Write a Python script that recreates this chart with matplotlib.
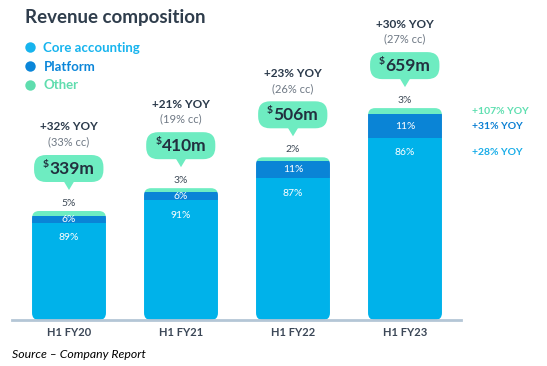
import matplotlib
matplotlib.use("Agg")
import matplotlib.pyplot as plt
from matplotlib.patches import FancyBboxPatch, Polygon
from matplotlib.lines import Line2D
from matplotlib.transforms import IdentityTransform

plt.rcParams['font.family'] = ['Lato', 'DejaVu Sans']

# data
categories = ["H1 FY20", "H1 FY21", "H1 FY22", "H1 FY23"]
revenue = [339, 410, 506, 659]          # $m
core_pct = [89, 91, 87, 86]
platform_pct = [6, 6, 11, 11]
other_pct = [5, 3, 2, 3]
yoy = ["+32% YOY", "+21% YOY", "+23% YOY", "+30% YOY"]
cc = ["(33% cc)", "(19% cc)", "(26% cc)", "(27% cc)"]
segment_yoy = ["+28% YOY", "+31% YOY", "+107% YOY"]   # core, platform, other (latest half)

CORE = "#00b2ea"
PLAT = "#0a84d6"
OTHER = "#6eedc2"
MINT = "#6eecc1"
DARK = "#2b3a4b"
GREY = "#6e7884"

W, H = 547, 366
fig = plt.figure(figsize=(W / 100, H / 100), dpi=100)
ax = fig.add_axes([0, 46 / H, 1, 320 / H])
ax.set_xlim(-69 / 112, (W - 69) / 112)
px_per_m = 109 / 339
ax.set_ylim(0, 320 / px_per_m)
ax.axis('off')

x = list(range(len(categories)))
core = [r * p / 100 for r, p in zip(revenue, core_pct)]
plat = [r * p / 100 for r, p in zip(revenue, platform_pct)]
other = [r * p / 100 for r, p in zip(revenue, other_pct)]
plat_top = [c + p for c, p in zip(core, plat)]

bw = 0.66
b_core = ax.bar(x, core, width=bw, color=CORE, zorder=2)
b_plat = ax.bar(x, plat, bottom=core, width=bw, color=PLAT, zorder=2)
b_other = ax.bar(x, other, bottom=plat_top, width=bw, color=OTHER, zorder=2)
ax.axhline(0, xmin=12 / W, xmax=461 / W, color="#b4c6d6", lw=2, zorder=3, clip_on=False)

# rounded corners: clip each stack with a rounded box
dx_px = ax.transData.transform((1, 0))[0] - ax.transData.transform((0, 0))[0]
dy_px = ax.transData.transform((0, 1))[1] - ax.transData.transform((0, 0))[1]
for i in x:
    clip = FancyBboxPatch((i - bw / 2, 0), bw, revenue[i],
                          boxstyle=f"round,pad=0,rounding_size={7 / dx_px}",
                          mutation_aspect=dx_px / dy_px, transform=ax.transData)
    for bars in (b_core, b_plat, b_other):
        bars[i].set_clip_path(clip)

# labels in and on the bars
for i in x:
    ax.text(i, core[i] + plat[i] / 2, f"{platform_pct[i]}%", ha='center', va='center',
            color='white', fontsize=7.5, zorder=4)
    ax.annotate(f"{core_pct[i]}%", (i, core[i]), xytext=(0, -15), textcoords='offset pixels',
                ha='center', va='center', color='white', fontsize=7.5, zorder=4)
    ax.annotate(f"{other_pct[i]}%", (i, revenue[i]), xytext=(0, 8), textcoords='offset pixels',
                ha='center', va='center', color="#3e4a57", fontsize=7.5)
    ax.annotate(categories[i], (i, 0), xytext=(0, -13), textcoords='offset pixels',
                ha='center', va='center', color="#3b4757", fontsize=8, weight='bold',
                annotation_clip=False)
    ax.annotate(yoy[i], (i, revenue[i]), xytext=(0, 84), textcoords='offset pixels',
                ha='center', va='center', color=DARK, fontsize=8.5, weight='bold')
    ax.annotate(cc[i], (i, revenue[i]), xytext=(0, 69), textcoords='offset pixels',
                ha='center', va='center', color=GREY, fontsize=8)

# segment growth on the right of the last bar
last = len(x) - 1
seg_y = [(core[last], -15), (core[last] + plat[last] / 2, 0), (plat_top[last] + other[last] / 2, 0)]
seg_col = ["#19ade8", "#0a7fd3", "#5edfb0"]
for (yv, off), lab, col in zip(seg_y, segment_yoy, seg_col):
    ax.annotate(lab, (last + bw / 2, yv), xytext=(30, off), textcoords='offset pixels',
                ha='left', va='center', color=col, fontsize=7.5, weight='bold')

# speech bubbles with revenue totals
renderer = fig.canvas.get_renderer()
ident = IdentityTransform()
for i in x:
    bx, by = ax.transData.transform((i, revenue[i]))
    num = fig.text(bx + 3, by + 42, f"{revenue[i]}m", transform=ident, ha='center', va='center',
                   fontsize=12.5, weight='bold', color="#22303f", zorder=5)
    ext = num.get_window_extent(renderer)
    dol = fig.text(ext.x0 - 0.5, ext.y1 + 1, "$", transform=ident, ha='right', va='top',
                   fontsize=7.5, weight='bold', color="#22303f", zorder=5)
    dext = dol.get_window_extent(renderer)
    x0 = dext.x0 - 9
    box = FancyBboxPatch((x0, by + 29), ext.x1 + 9 - x0, 27,
                         boxstyle="round,pad=0,rounding_size=12", transform=ident,
                         fc=MINT, ec='none', zorder=1)
    tip = Polygon([[bx - 6, by + 31], [bx + 6, by + 31], [bx, by + 21]], closed=True,
                  transform=ident, fc=MINT, ec='none', zorder=1)
    fig.add_artist(box)
    fig.add_artist(tip)

# title, legend, source
fig.text(25 / W, 1 - 18 / H, "Revenue composition", fontsize=13.5, weight='bold',
         color="#2f3d4c", va='center')
handles = [Line2D([], [], marker='o', ls='', markersize=7.5, mfc=c, mec='none', label=l)
           for c, l in zip(["#17b4ee", "#0b86d9", "#5fddae"], ["Core accounting", "Platform", "Other"])]
fig.legend(handles=handles, loc='upper left', bbox_to_anchor=(25 / W, 1 - 42 / H), frameon=False,
           prop={'size': 9.5, 'weight': 'bold'}, labelcolor='markerfacecolor',
           handlelength=0.8, handletextpad=0.6, labelspacing=0.5, borderpad=0, borderaxespad=0)
fig.text(12 / W, 1 - 355 / H, "Source – Company Report", fontsize=8.8, style='italic',
         color='black', va='center')

fig.savefig("out.png", dpi=100)
